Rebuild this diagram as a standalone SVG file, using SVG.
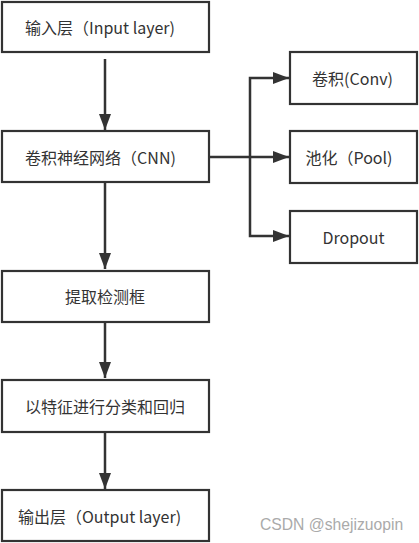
<svg xmlns="http://www.w3.org/2000/svg" width="419" height="543" viewBox="0 0 419 543">
<defs>
<style>
.box{fill:#fff;stroke:#333;stroke-width:2.2}
.t{font-family:"Microsoft YaHei","Noto Sans CJK SC","Noto Sans",sans-serif;font-size:16px;fill:#333;text-anchor:middle;dominant-baseline:central}
.edge{fill:none;stroke:#333;stroke-width:2.5}
.wm{font-family:"Liberation Sans",Arial,sans-serif;font-size:15.7px;fill:#aaa}
</style>
<marker id="a" viewBox="0 0 16 12" refX="16" refY="6" markerWidth="16" markerHeight="12" markerUnits="userSpaceOnUse" orient="auto">
<path d="M0,0 L16,6 L0,12 z" fill="#333"/>
</marker>
</defs>
<rect width="419" height="543" fill="#fff"/>
<g id="connectors">
<path class="edge" d="M105,59 V130" marker-end="url(#a)"/>
<path class="edge" d="M105,183 V269" marker-end="url(#a)"/>
<path class="edge" d="M105,323 V378" marker-end="url(#a)"/>
<path class="edge" d="M105,433 V489" marker-end="url(#a)"/>
<path class="edge" d="M209,157 H289" marker-end="url(#a)"/>
<path class="edge" d="M250,157 V78 H289" marker-end="url(#a)"/>
<path class="edge" d="M250,157 V236 H289" marker-end="url(#a)"/>
</g>
<g id="input"><rect class="box" x="2" y="2" width="207" height="50"/><text class="t" x="100" y="27">输入层（Input layer)</text></g>
<g id="cnn"><rect class="box" x="2" y="131" width="207" height="51"/><text class="t" x="100.5" y="157">卷积神经网络（CNN)</text></g>
<g id="conv"><rect class="box" x="290" y="52" width="127" height="52"/><text class="t" x="352.5" y="78">卷积(Conv)</text></g>
<g id="pool"><rect class="box" x="290" y="131" width="127" height="52"/><text class="t" x="349" y="157">池化（Pool)</text></g>
<g id="dropout"><rect class="box" x="290" y="211" width="127" height="52"/><text class="t" x="353.5" y="237">Dropout</text></g>
<g id="extract"><rect class="box" x="2" y="271" width="207" height="51"/><text class="t" x="105" y="296">提取检测框</text></g>
<g id="classify"><rect class="box" x="2" y="380" width="207" height="52"/><text class="t" x="105" y="405.5">以特征进行分类和回归</text></g>
<g id="output"><rect class="box" x="2" y="490" width="207" height="51"/><text class="t" x="99.5" y="516">输出层（Output layer)</text></g>
<text class="wm" x="260" y="530">CSDN @shejizuopin</text>
</svg>
